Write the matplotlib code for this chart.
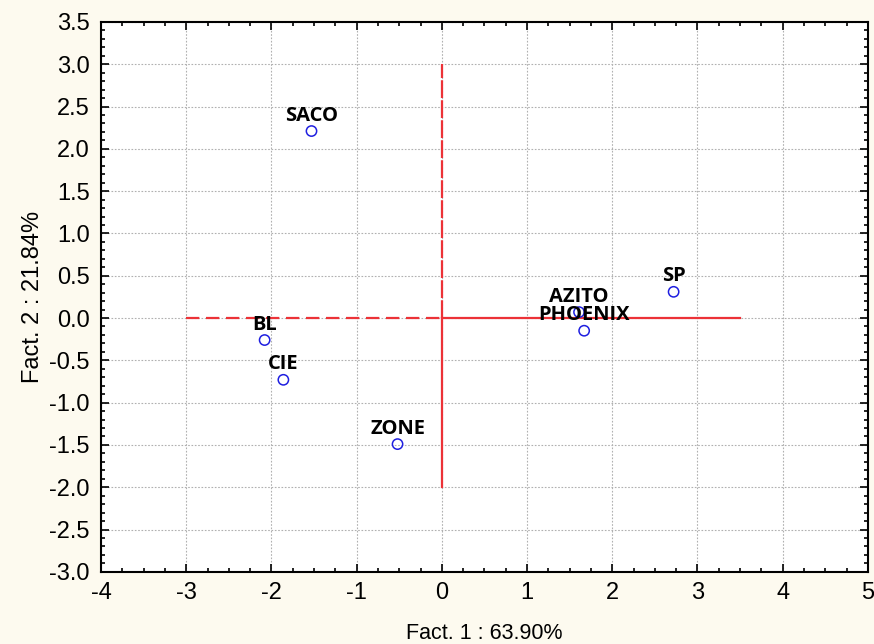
import matplotlib
matplotlib.use("Agg")
from matplotlib import pyplot as plt
from matplotlib.ticker import MultipleLocator, FormatStrFormatter

plt.rcParams["axes.unicode_minus"] = False

names = ["SACO", "BL", "CIE", "ZONE", "AZITO", "PHOENIX", "SP"]
fact1 = [-1.53, -2.08, -1.86, -0.52, 1.61, 1.67, 2.72]
fact2 = [2.21, -0.26, -0.73, -1.49, 0.07, -0.15, 0.31]

bg = "#fdfaef"
fig = plt.figure(figsize=(8.74, 6.44), dpi=100, facecolor=bg)
ax = fig.add_axes([0.1156, 0.112, 0.8774, 0.854])
ax.set_facecolor("white")

# axis cross
ax.plot([-3, 0], [0, 0], color="#ec3237", lw=1.6, dashes=(6, 3), zorder=2)
ax.plot([0, 3.5], [0, 0], color="#ec3237", lw=1.6, zorder=2)
ax.plot([0, 0], [0, 3], color="#ec3237", lw=1.6, dashes=(8, 1), zorder=2)
ax.plot([0, 0], [-2, 0], color="#ec3237", lw=1.6, zorder=2)

ax.scatter(fact1, fact2, s=55, facecolors="none", edgecolors="#1f1fe0", linewidths=1.1, zorder=3)
for n, x, y in zip(names, fact1, fact2):
    ax.annotate(n, (x, y), xytext=(0, 7.5), textcoords="offset points", ha="center", va="baseline",
                fontsize=14.5, fontweight="bold", family="Open Sans", color="black", zorder=4)

ax.set_xlim(-4, 5)
ax.set_ylim(-3, 3.5)
ax.xaxis.set_major_locator(MultipleLocator(1))
ax.xaxis.set_minor_locator(MultipleLocator(0.25))
ax.yaxis.set_major_locator(MultipleLocator(0.5))
ax.yaxis.set_minor_locator(MultipleLocator(0.1))
ax.yaxis.set_major_formatter(FormatStrFormatter("%.1f"))
ax.grid(True, which="major", color="#b0b0b0", ls=(0, (1.5, 1.5)), lw=0.8, zorder=0)
ax.tick_params(which="both", direction="in", top=True, right=True, width=1.2)
ax.tick_params(which="major", length=6)
ax.tick_params(which="minor", length=3)
ax.tick_params(axis="y", labelsize=17, pad=8)
ax.tick_params(axis="x", labelsize=17, pad=7)
for s in ax.spines.values():
    s.set_linewidth(1.5)
for lbl in ax.get_yticklabels() + ax.get_xticklabels():
    lbl.set_family("Liberation Sans")

ax.set_xlabel("Fact. 1 : 63.90%", fontsize=15.5, family="Liberation Sans", labelpad=14)
ax.set_ylabel("Fact. 2 : 21.84%", fontsize=17, family="Liberation Sans", labelpad=4)

fig.savefig("out.png", dpi=100, facecolor=bg)
